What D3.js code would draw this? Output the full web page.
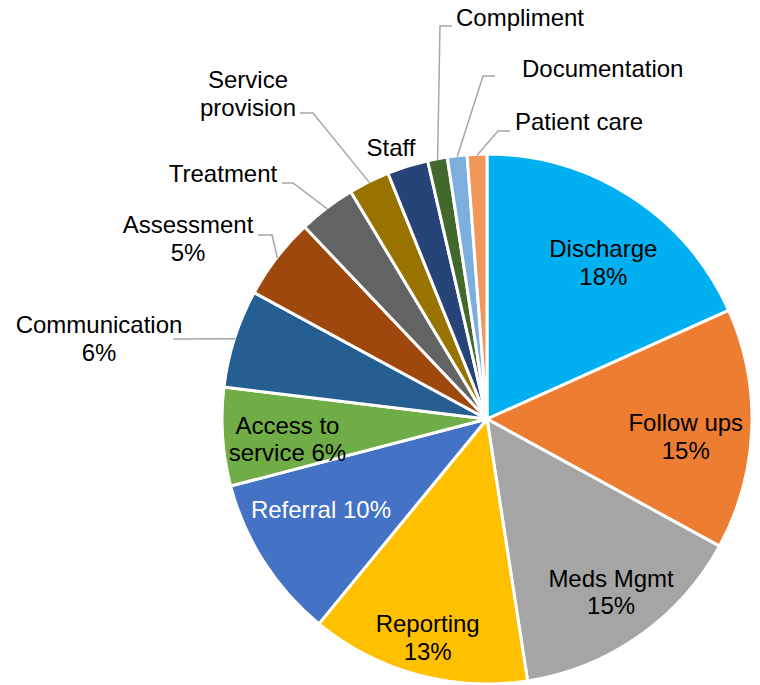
<!DOCTYPE html>
<html>
<head>
<meta charset="utf-8">
<script src="https://cdn.jsdelivr.net/npm/d3@7/dist/d3.min.js"></script>
<style>
  html, body { margin: 0; padding: 0; background: #fff; }
  svg text { font-family: "Liberation Sans", Arial, sans-serif; font-size: 24px; fill: #000; }
  .leader { fill: none; stroke: #a6a6a6; stroke-width: 1.5px; }
</style>
</head>
<body>
<svg id="chart" width="760" height="685"></svg>
<script>
// data (share of complaints, %)
var categories = ['Discharge', 'Follow ups', 'Meds Mgmt', 'Reporting', 'Referral', 'Access to service',
    'Communication', 'Assessment', 'Treatment', 'Service provision', 'Staff', 'Compliment',
    'Documentation', 'Patient care'];
var values = [18.3, 14.7, 14.6, 13.4, 10, 6, 6, 5, 3.5, 2.5, 2.5, 1.2, 1.2, 1.2];
// label text, {p} gets the rounded percentage
var labelLines = [['Discharge', '{p}'], ['Follow ups', '{p}'], ['Meds Mgmt', '{p}'], ['Reporting', '{p}'],
    ['Referral {p}'], ['Access to', 'service {p}'], ['Communication', '{p}'], ['Assessment', '{p}'],
    ['Treatment'], ['Service', 'provision'], ['Staff'], ['Compliment'], ['Documentation'], ['Patient care']];
var colors = ['#00b0f0', '#ed7d31', '#a5a5a5', '#ffc000', '#4472c4', '#70ad47', '#255e91', '#9e480e',
    '#636363', '#997300', '#264478', '#43682b', '#7cafdd', '#f1975a'];
var textColors = ['#000', '#000', '#000', '#000', '#fff', '#000', '#000', '#000', '#000', '#000', '#000',
    '#000', '#000', '#000'];

var cx = 487, cy = 419, radius = 265, lineH = 27.5;

// inside labels: radius fraction and angle nudge (deg) from slice middle
var insideLayout = {
    0: { rf: 0.736, da: 3.7 },
    1: { rf: 0.753, da: 2.8 },
    2: { rf: 0.803, da: -0.6 },
    3: { rf: 0.855, da: -0.1 },
    4: { rf: 0.714, da: 4 },
    5: { rf: 0.757, da: -1.9 }
};
// outside labels: text anchor point and leader line start / elbow
var outsideLayout = {
    6: { x: 99, y: 333, anchor: 'middle', leader: [[173, 339]] },
    7: { x: 188, y: 233, anchor: 'middle', leader: [[258, 235], [272, 235]] },
    8: { x: 223, y: 182, anchor: 'middle', leader: [[282, 183], [293, 183]] },
    9: { x: 248, y: 88, anchor: 'middle', leader: [[300, 113], [313, 113]] },
    10: { x: 391, y: 156, anchor: 'middle', leader: null },
    11: { x: 456, y: 26, anchor: 'start', leader: [[452, 26], [440, 26]] },
    12: { x: 522, y: 77, anchor: 'start', leader: [[495, 76], [483, 76]] },
    13: { x: 515, y: 130, anchor: 'start', leader: [[510, 131], [498, 131]] }
};

var total = d3.sum(values);
var svg = d3.select('#chart');
var g = svg.append('g').attr('transform', 'translate(' + cx + ',' + cy + ')');

var pie = d3.pie().sort(null).value(function (d) { return d; });
var arc = d3.arc().innerRadius(0).outerRadius(radius);
var arcs = pie(values);

g.selectAll('path.slice')
    .data(arcs)
    .enter().append('path')
    .attr('class', 'slice')
    .attr('d', arc)
    .style('fill', function (d, i) { return colors[i]; })
    .style('stroke', '#fff')
    .style('stroke-width', 3)
    .style('stroke-linejoin', 'round');

function polar(angle, r) {
    return [r * Math.sin(angle), -r * Math.cos(angle)];
}

function textFor(i) {
    var p = Math.round(values[i] / total * 100) + '%';
    return labelLines[i].map(function (s) { return s.replace('{p}', p); });
}

arcs.forEach(function (d, i) {
    var lines = textFor(i);
    var mid = (d.startAngle + d.endAngle) / 2;
    if (insideLayout[i]) {
        var L = insideLayout[i];
        var pt = polar(mid + L.da * Math.PI / 180, L.rf * radius);
        var t = g.append('text')
            .attr('text-anchor', 'middle')
            .style('fill', textColors[i]);
        lines.forEach(function (s, k) {
            t.append('tspan')
                .attr('x', pt[0])
                .attr('y', pt[1] - (lines.length - 1) * lineH / 2 + 8.4 + k * lineH)
                .text(s);
        });
    } else {
        var o = outsideLayout[i];
        if (o.leader) {
            var end = polar(mid, radius - 1);
            var pts = o.leader.map(function (p) { return [p[0] - cx, p[1] - cy]; });
            pts.push(end);
            g.append('path')
                .attr('class', 'leader')
                .attr('d', d3.line()(pts));
        }
        var t2 = svg.append('text')
            .attr('text-anchor', o.anchor)
            .style('fill', textColors[i]);
        lines.forEach(function (s, k) {
            t2.append('tspan')
                .attr('x', o.x)
                .attr('y', o.y + k * (lineH + 0.5))
                .text(s);
        });
    }
});
</script>
</body>
</html>
